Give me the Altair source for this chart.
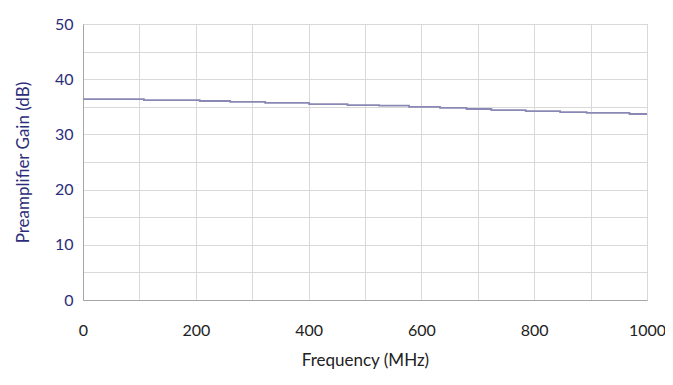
import altair as alt
import pandas as pd

# step breakpoints (MHz) and gain values (dB) for each step
breaks = [0, 108, 207, 261, 323, 401, 469, 525, 578, 633, 680, 724, 785, 846, 893, 969, 1000]
gains = [36.4, 36.2, 36.05, 35.9, 35.7, 35.5, 35.3, 35.2, 35.0, 34.8, 34.6, 34.4, 34.2, 34.05, 33.9, 33.7]

rows = []
for i, g in enumerate(gains):
    rows.append({"freq": breaks[i], "gain": g})
rows.append({"freq": breaks[-1], "gain": gains[-1]})
df = pd.DataFrame(rows)

navy = "#2b2d7a"
font = "Lato"

chart = alt.Chart(df).mark_line(
    interpolate="step-after", color="#8a88b4", strokeWidth=1.8
).encode(
    x=alt.X("freq:Q", scale=alt.Scale(domain=[0, 1000], nice=False),
            axis=alt.Axis(values=list(range(0, 1001, 100)),
                          labelExpr="datum.value % 200 == 0 ? datum.label : ''",
                          title="Frequency (MHz)", format="d",
                          labelPadding=22, titlePadding=14, labelColor="#222222",
                          titleColor="#222222")),
    y=alt.Y("gain:Q", scale=alt.Scale(domain=[0, 50], nice=False),
            axis=alt.Axis(values=list(range(0, 51, 5)),
                          labelExpr="datum.value % 10 == 0 ? datum.label : ''",
                          title="Preamplifier Gain (dB)", labelPadding=10,
                          titlePadding=22, labelColor=navy, titleColor=navy)),
).properties(
    width=564, height=276,
    autosize=alt.AutoSizeParams(type="none"),
    padding={"left": 75, "top": 16, "right": 18, "bottom": 76},
).configure_axis(
    labelFont=font, titleFont=font, labelFontSize=16, titleFontSize=17,
    titleFontWeight="normal", ticks=False, gridColor="#d9d9d9",
    domainColor="#a6a6a6", labelFlush=False,
).configure_view(
    stroke="#bfbfbf"
)

chart.save("out.html", embed_options={"renderer": "svg", "actions": False})
